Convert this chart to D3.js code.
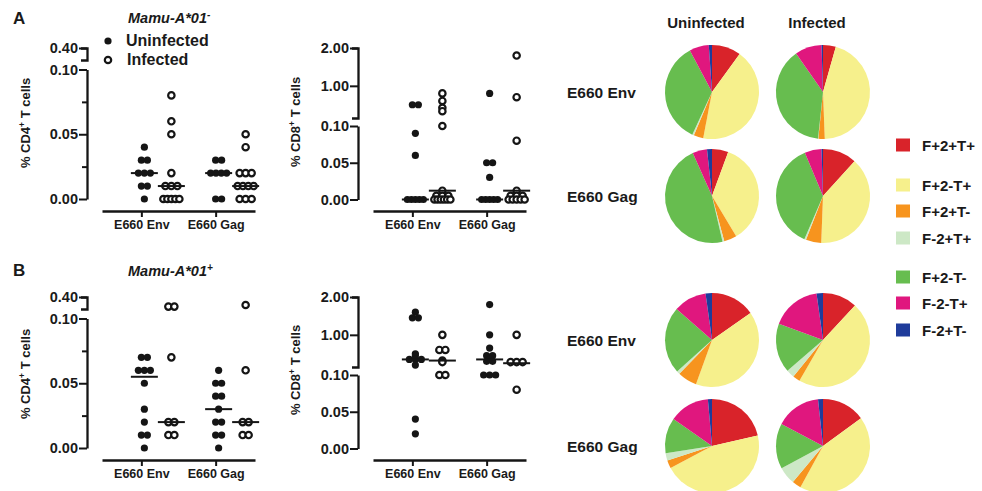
<!DOCTYPE html>
<html><head><meta charset="utf-8">
<script src="https://cdn.jsdelivr.net/npm/d3@7"></script>
<style>
body{margin:0;background:#fff}
text{font-family:"Liberation Sans",Arial,Helvetica,sans-serif;font-weight:bold;fill:#1a1a1a}
</style>
</head><body>
<svg id="c" width="982" height="491"></svg>
<script>
// ---------------- DATA ----------------
const categories = ["E660 Env", "E660 Gag"];
const groups = ["Uninfected", "Infected"];

// Panel A (Mamu-A*01-), % CD4+ T cells
const aCD4_EnvUninf = [0.04, 0.03, 0.03, 0.02, 0.02, 0.02, 0.01, 0.01, 0.00];
const aCD4_EnvInf   = [0.08, 0.06, 0.05, 0.02, 0.01, 0.01, 0.01, 0, 0, 0, 0, 0];
const aCD4_GagUninf = [0.03, 0.03, 0.02, 0.02, 0.02, 0.02, 0, 0];
const aCD4_GagInf   = [0.05, 0.04, 0.02, 0.02, 0.02, 0.01, 0.01, 0.01, 0.01, 0, 0, 0];
const aCD4_medians  = [0.02, 0.01, 0.02, 0.01];

// Panel A, % CD8+ T cells
const aCD8_EnvUninf = [0.5, 0.5, 0.09, 0.06, 0, 0, 0, 0, 0];
const aCD8_EnvInf   = [0.8, 0.6, 0.42, 0.33, 0.1, 0.012, 0.005, 0.005, 0.005, 0, 0, 0, 0, 0, 0];
const aCD8_GagUninf = [0.8, 0.05, 0.05, 0.03, 0, 0, 0, 0, 0];
const aCD8_GagInf   = [1.8, 0.7, 0.08, 0.012, 0.005, 0.005, 0.005, 0, 0, 0, 0, 0];
const aCD8_medians  = [0, 0.012, 0, 0.012];

// Panel B (Mamu-A*01+), % CD4+ T cells
const bCD4_EnvUninf = [0.07, 0.07, 0.06, 0.06, 0.06, 0.05, 0.03, 0.02, 0.01, 0.01, 0];
const bCD4_EnvInf   = [0.16, 0.16, 0.07, 0.02, 0.02, 0.01, 0.01];
const bCD4_GagUninf = [0.06, 0.05, 0.05, 0.04, 0.04, 0.03, 0.02, 0.02, 0.01, 0.01, 0];
const bCD4_GagInf   = [0.2, 0.06, 0.02, 0.02, 0.01, 0.01];
const bCD4_medians  = [0.055, 0.02, 0.03, 0.02];

// Panel B, % CD8+ T cells
const bCD8_EnvUninf = [1.6, 1.45, 1.45, 0.5, 0.45, 0.35, 0.35, 0.35, 0.2, 0.04, 0.02];
const bCD8_EnvInf   = [1.0, 0.6, 0.6, 0.32, 0.28, 0.1, 0.1];
const bCD8_GagUninf = [1.8, 1.0, 0.65, 0.45, 0.45, 0.35, 0.3, 0.3, 0.1, 0.1, 0.1];
const bCD8_GagInf   = [1.0, 0.28, 0.28, 0.28, 0.08];
const bCD8_medians  = [0.35, 0.32, 0.35, 0.25];

// Axis ticks
const cd4LowerTicks = [0, 0.05, 0.10];
const cd4MinorTicks = [0.025, 0.075];
const cd4UpperTicks = [0.40];
const cd8LowerTicks = [0, 0.05, 0.10];
const cd8UpperTicks = [1.00, 2.00];

// Pie charts: functional subsets (percent)
const pieLabels = ["F+2+T+", "F+2-T+", "F+2+T-", "F-2+T+", "F+2-T-", "F-2-T+", "F-2+T-"];
const pieA_EnvUninf = [10.0, 43.0, 3.3, 0.6, 35.3, 6.7, 1.1];
const pieA_EnvInf   = [4.4, 45.0, 2.2, 0.1, 38.6, 9.2, 0.5];
const pieA_GagUninf = [5.6, 35.8, 4.4, 0.6, 46.9, 5.0, 1.7];
const pieA_GagInf   = [11.7, 38.9, 5.3, 0.6, 37.2, 5.8, 0.5];
const pieB_EnvUninf = [15.3, 40.3, 6.7, 1.1, 23.1, 11.4, 2.2];
const pieB_EnvInf   = [11.9, 46.4, 2.5, 2.8, 16.9, 17.2, 2.2];
const pieB_GagUninf = [21.4, 45.8, 2.8, 2.5, 12.2, 13.9, 1.4];
const pieB_GagInf   = [15.0, 43.1, 3.1, 6.1, 15.6, 15.6, 1.7];

const pieColors = ["#d9232a", "#f6f08c", "#f7941e", "#cde8c6", "#67bd4f", "#e0177e", "#1f3c9b"];

// ---------------- DRAW ----------------
const svg = d3.select("#c");
const ink = "#151515";
const fmt = d3.format(".2f");

function styleAxis(g, fs) {
  g.selectAll("path.domain").attr("stroke", ink).attr("stroke-width", 2.3);
  g.selectAll(".tick line").attr("stroke", ink).attr("stroke-width", 2);
  g.selectAll(".tick text").attr("fill", "#1a1a1a").attr("font-size", fs)
    .attr("font-family", '"Liberation Sans",Arial,sans-serif').attr("font-weight", "bold");
}

function drawScatter(p) {
  const o = p.offY, ax = p.axisX;
  const g = svg.append("g");
  let lower, upper, lt, ut, mt;
  if (p.kind === "cd4") {
    lower = d3.scaleLinear().domain([0, 0.1]).range([199 + o, 69.5 + o]);
    upper = d3.scaleLinear().domain([0.1, 0.4]).range([60 + o, 48 + o]);
    lt = cd4LowerTicks; ut = cd4UpperTicks; mt = cd4MinorTicks;
  } else {
    lower = d3.scaleLinear().domain([0, 0.1]).range([199.5 + o, 126 + o]);
    upper = d3.scaleLinear().domain([0.15, 2]).range([118 + o, 48 + o]);
    lt = cd8LowerTicks; ut = cd8UpperTicks; mt = [];
  }
  const y = v => v <= 0.1 ? lower(v) : upper(v);

  // y axis segments
  const gl = g.append("g").attr("transform", `translate(${ax},0)`)
    .call(d3.axisLeft(lower).tickValues(lt).tickFormat(fmt).tickSize(8).tickSizeOuter(0).tickPadding(1));
  styleAxis(gl, 14.5);
  if (mt.length) {
    const gm = g.append("g").attr("transform", `translate(${ax},0)`)
      .call(d3.axisLeft(lower).tickValues(mt).tickFormat("").tickSize(5).tickSizeOuter(0));
    gm.select("path.domain").remove();
    styleAxis(gm, 12);
  }
  const gu = g.append("g").attr("transform", `translate(${ax},0)`)
    .call(d3.axisLeft(upper).tickValues(ut).tickFormat(fmt).tickSize(8).tickSizeOuter(6).tickPadding(1));
  styleAxis(gu, 14.5);

  // x axis
  const x = d3.scalePoint().domain(categories).range([ax + 15, ax + 168]).padding(0.53);
  const xo = d3.scalePoint().domain(groups).range([3, 30]);
  const gx = g.append("g").attr("transform", `translate(0,${211 + o})`)
    .call(d3.axisBottom(x).tickSize(6).tickSizeOuter(0).tickPadding(3));
  styleAxis(gx, 12.5);

  // y title
  const t = g.append("text").attr("transform", `translate(${p.titleX},${p.titleY}) rotate(-90)`)
    .attr("text-anchor", "middle").attr("font-size", 13).attr("fill", "#333");
  t.append("tspan").text(p.kind === "cd4" ? "% CD4" : "% CD8");
  t.append("tspan").text("+").attr("font-size", 8.5).attr("dy", -5);
  t.append("tspan").text(" T cells").attr("dy", 5);

  // points
  p.series.forEach((s, si) => {
    const cx = x(s.cat) + xo(s.grp);
    const byVal = d3.groups(s.values, v => v);
    byVal.forEach(([v, arr]) => {
      const n = arr.length;
      const sp = n > 1 ? Math.min(6, 16 / (n - 1)) : 0;
      arr.forEach((_, i) => {
        const px = cx + (i - (n - 1) / 2) * sp;
        if (s.grp === "Uninfected") {
          g.append("circle").attr("cx", px).attr("cy", y(v)).attr("r", 3.6).attr("fill", ink);
        } else {
          g.append("circle").attr("cx", px).attr("cy", y(v)).attr("r", 3.2)
            .attr("fill", "#fff").attr("stroke", ink).attr("stroke-width", 2.2);
        }
      });
    });
    const m = p.medians[si];
    g.append("line").attr("x1", cx - 13.5).attr("x2", cx + 13.5)
      .attr("y1", y(m)).attr("y2", y(m)).attr("stroke", ink).attr("stroke-width", 2);
  });
}

function series(env0, env1, gag0, gag1) {
  return [
    {cat: categories[0], grp: groups[0], values: env0},
    {cat: categories[0], grp: groups[1], values: env1},
    {cat: categories[1], grp: groups[0], values: gag0},
    {cat: categories[1], grp: groups[1], values: gag1}
  ];
}

drawScatter({kind: "cd4", offY: 0, axisX: 87, titleX: 30, titleY: 123,
  series: series(aCD4_EnvUninf, aCD4_EnvInf, aCD4_GagUninf, aCD4_GagInf), medians: aCD4_medians});
drawScatter({kind: "cd8", offY: 0, axisX: 358, titleX: 300, titleY: 122,
  series: series(aCD8_EnvUninf, aCD8_EnvInf, aCD8_GagUninf, aCD8_GagInf), medians: aCD8_medians});
drawScatter({kind: "cd4", offY: 249, axisX: 87, titleX: 30, titleY: 374,
  series: series(bCD4_EnvUninf, bCD4_EnvInf, bCD4_GagUninf, bCD4_GagInf), medians: bCD4_medians});
drawScatter({kind: "cd8", offY: 249, axisX: 358, titleX: 300, titleY: 370,
  series: series(bCD8_EnvUninf, bCD8_EnvInf, bCD8_GagUninf, bCD8_GagInf), medians: bCD8_medians});

// panel letters and titles
svg.append("text").attr("x", 13).attr("y", 24).attr("font-size", 17).text("A");
svg.append("text").attr("x", 13).attr("y", 276).attr("font-size", 17).attr("font-weight", "normal").text("B");
function italTitle(xp, yp, sup) {
  const t = svg.append("text").attr("x", xp).attr("y", yp).attr("font-size", 14.5).attr("font-style", "italic").attr("fill", "#222");
  t.append("tspan").text("Mamu-A*01");
  t.append("tspan").text(sup).attr("font-size", 10).attr("dy", -5);
}
italTitle(128, 23, "-");
italTitle(128, 276, "+");

// legend
svg.append("circle").attr("cx", 108).attr("cy", 41).attr("r", 3.6).attr("fill", ink);
svg.append("circle").attr("cx", 108).attr("cy", 60).attr("r", 3.2).attr("fill", "#fff").attr("stroke", ink).attr("stroke-width", 2.2);
svg.append("text").attr("x", 126).attr("y", 46).attr("font-size", 16).text(groups[0]);
svg.append("text").attr("x", 127).attr("y", 65).attr("font-size", 16).text(groups[1]);

// pies
const pie = d3.pie().sort(null).value(d => d);
const arc = d3.arc().innerRadius(0).outerRadius(47);
const pieCols = d3.scalePoint().domain(groups).range([712, 823]);
const pieSets = [
  {y: 92, row: categories[0], vals: [pieA_EnvUninf, pieA_EnvInf]},
  {y: 196, row: categories[1], vals: [pieA_GagUninf, pieA_GagInf]},
  {y: 340, row: categories[0], vals: [pieB_EnvUninf, pieB_EnvInf]},
  {y: 446, row: categories[1], vals: [pieB_GagUninf, pieB_GagInf]}
];
pieSets.forEach(ps => {
  svg.append("text").attr("x", 567).attr("y", ps.y + 5.5).attr("font-size", 15.5).text(ps.row);
  groups.forEach((gname, gi) => {
    const gp = svg.append("g").attr("transform", `translate(${pieCols(gname)},${ps.y})`);
    gp.selectAll("path").data(pie(ps.vals[gi])).enter().append("path")
      .attr("d", arc).attr("fill", (d, i) => pieColors[i]);
  });
});
groups.forEach(gname => {
  svg.append("text").attr("x", pieCols(gname) - 6).attr("y", 28).attr("text-anchor", "middle")
    .attr("font-size", 15).text(gname);
});

// pie legend
const legY = d3.scaleOrdinal().domain(pieLabels).range([145, 185, 211, 238, 277, 303, 330]);
pieLabels.forEach((lab, i) => {
  svg.append("rect").attr("x", 896).attr("y", legY(lab) - 6.5).attr("width", 14).attr("height", 13).attr("fill", pieColors[i]);
  svg.append("text").attr("x", 922).attr("y", legY(lab) + 5.5).attr("font-size", 15).text(lab);
});
</script>
</body></html>
